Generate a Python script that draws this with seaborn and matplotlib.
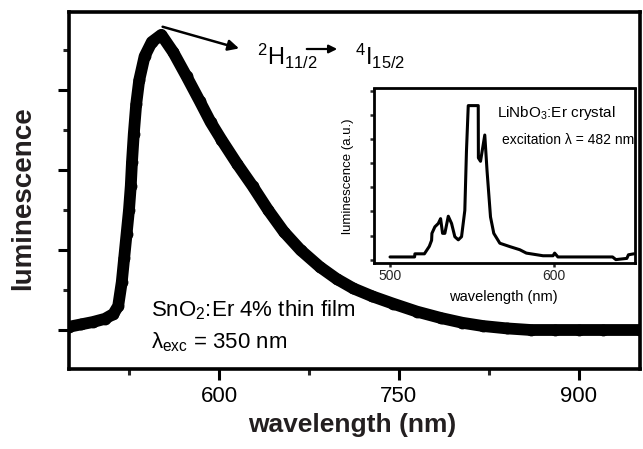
import numpy as np
import pandas as pd
import matplotlib
matplotlib.use("Agg")
import matplotlib.pyplot as plt
import seaborn as sns

# ---- data: main SnO2:Er film spectrum ----
wl_main = [475, 485, 495, 505, 512, 516, 519, 521, 523, 525, 526.5, 527.5, 529,
           531, 533.5, 538, 544, 552, 562, 573, 584, 593, 602, 615, 628, 641,
           654, 668, 684, 698, 712, 728, 745, 765, 785, 803, 820, 840, 860, 880,
           900, 920, 951]
lum_main = [0.04, 0.07, 0.10, 0.14, 0.20, 0.30, 0.60, 0.90, 1.20, 1.50, 1.80,
            2.10, 2.45, 2.82, 3.12, 3.42, 3.60, 3.69, 3.47, 3.17, 2.86, 2.60,
            2.38, 2.08, 1.80, 1.50, 1.23, 1.00, 0.79, 0.64, 0.52, 0.42, 0.33,
            0.23, 0.15, 0.09, 0.05, 0.02, 0.00, 0.00, 0.00, 0.00, 0.00]

# ---- data: inset LiNbO3:Er crystal spectrum ----
wl_in = [500, 515, 515.2, 521, 524, 525.4, 525.6, 527.4, 529.5, 530.9, 532.1,
         533.5, 535.6, 537.6, 539.6, 541.7, 543.7, 545.7, 546.7, 547.8, 553.9,
         554.0, 555.3, 557.9, 559.3, 561.4, 563.4, 567.1, 573.2, 579.3, 583.3,
         593.5, 599.6, 600.6, 602.6, 636, 638, 644.7, 645.7, 649]
lum_in = [0.11, 0.11, 0.24, 0.24, 0.55, 0.80, 1.09, 1.36, 1.50, 1.70, 1.09,
          1.09, 1.80, 1.50, 0.95, 0.82, 0.95, 2.04, 4.49, 6.39, 6.39, 4.22,
          4.08, 5.17, 3.67, 1.77, 1.09, 0.68, 0.54, 0.41, 0.27, 0.16, 0.16,
          0.27, 0.11, 0.11, 0.00, 0.05, 0.20, 0.24]

main_xticks = [600, 750, 900]
main_xminor = [525, 675, 825]
inset_xticks = [500, 600]

sns.set_style("ticks")
plt.rcParams["font.family"] = ["Liberation Sans", "DejaVu Sans"]
plt.rcParams["mathtext.fontset"] = "custom"
plt.rcParams["mathtext.rm"] = "Liberation Sans"
plt.rcParams["mathtext.it"] = "Liberation Sans:italic"
plt.rcParams["mathtext.bf"] = "Liberation Sans:bold"

W, H = 643, 449
fig = plt.figure(figsize=(W / 100, H / 100), dpi=100)

def fx(px):
    return px / W

def fy(py):
    return 1 - py / H

ax = fig.add_axes([fx(69), fy(369), fx(640) - fx(69), fy(12) - fy(369)])
df_main = pd.DataFrame({"wavelength": wl_main, "lum": lum_main})
sns.lineplot(data=df_main, x="wavelength", y="lum", ax=ax, color="black",
             lw=8.5, marker="o", markersize=8.5, markeredgewidth=0,
             estimator=None, sort=False, solid_capstyle="round",
             solid_joinstyle="round")
ax.set_xlim(475, 951)
ax.set_ylim(-0.4875, 3.975)
ax.set_xticks(main_xticks)
ax.set_xticks(main_xminor, minor=True)
ax.set_xticklabels([str(t) for t in main_xticks])
ax.set_yticks([0, 1, 2, 3])
ax.set_yticks([0.5, 1.5, 2.5, 3.5], minor=True)
ax.set_yticklabels([])
ax.tick_params(axis="both", which="major", direction="out", length=8, width=2.2,
               labelsize=16, pad=4, colors="black")
ax.tick_params(axis="both", which="minor", direction="out", length=4.5, width=2.2)
for s in ax.spines.values():
    s.set_linewidth(2.6)
    s.set_color("black")
    s.set_visible(True)
ax.set_xlabel("")
ax.set_ylabel("")
fig.text(fx(352), fy(425), "wavelength (nm)", fontsize=19, fontweight="bold",
         color="#231f20", ha="center", va="center")
fig.text(fx(23), fy(198), "luminescence", fontsize=20, fontweight="bold",
         color="#231f20", ha="center", va="center", rotation=90)

# arrow from peak
ax.annotate("", xy=(619, 3.51), xytext=(550.8, 3.80),
            arrowprops=dict(arrowstyle="-|>", color="black", lw=1.8,
                            mutation_scale=16))
# transition label
fig.text(fx(257), fy(65), r"$^{2}$H$_{11/2}$", fontsize=17, ha="left",
         va="baseline", color="black")
fig.add_artist(matplotlib.patches.FancyArrowPatch(
    (fx(304), fy(49)), (fx(340), fy(49)), transform=fig.transFigure,
    arrowstyle="-|>", mutation_scale=12, color="black", lw=1.6))
fig.text(fx(355), fy(65), r"$^{4}$I$_{15/2}$", fontsize=17, ha="left",
         va="baseline", color="black")

# main text annotations
fig.text(fx(151), fy(310), r"SnO$_2$:Er 4% thin film", fontsize=16,
         ha="left", va="center", color="black")
fig.text(fx(151), fy(342), r"λ$_{\rm exc}$ = 350 nm", fontsize=16,
         ha="left", va="center", color="black")

# ---- inset ----
axi = fig.add_axes([fx(374), fy(262.5), fx(634.5) - fx(374), fy(88.5) - fy(262.5)])
df_in = pd.DataFrame({"wavelength": wl_in, "lum": lum_in})
sns.lineplot(data=df_in, x="wavelength", y="lum", ax=axi, color="black",
             lw=2.2, estimator=None, sort=False)
axi.set_xlim(490.2, 649.4)
axi.set_ylim(-0.12, 7.1)
axi.set_xticks(inset_xticks)
axi.set_xticklabels([str(t) for t in inset_xticks])
axi.set_yticks(range(0, 8))
axi.set_yticklabels([])
axi.tick_params(axis="both", direction="out", length=3, width=1.8,
                labelsize=10, pad=2)
for s in axi.spines.values():
    s.set_linewidth(2.0)
    s.set_color("black")
axi.set_xlabel("")
axi.set_ylabel("")
fig.text(fx(503), fy(297), "wavelength (nm)", fontsize=10.5, ha="center",
         va="center", color="black")
fig.text(fx(348), fy(176), "luminescence (a.u.)", fontsize=9.5, ha="center",
         va="center", rotation=90, color="black")
fig.text(fx(497), fy(113), r"LiNbO$_3$:Er crystal", fontsize=11, ha="left",
         va="center", color="black")
fig.text(fx(502), fy(140), "excitation λ = 482 nm", fontsize=10, ha="left",
         va="center", color="black")

fig.savefig("out.png", dpi=100)
